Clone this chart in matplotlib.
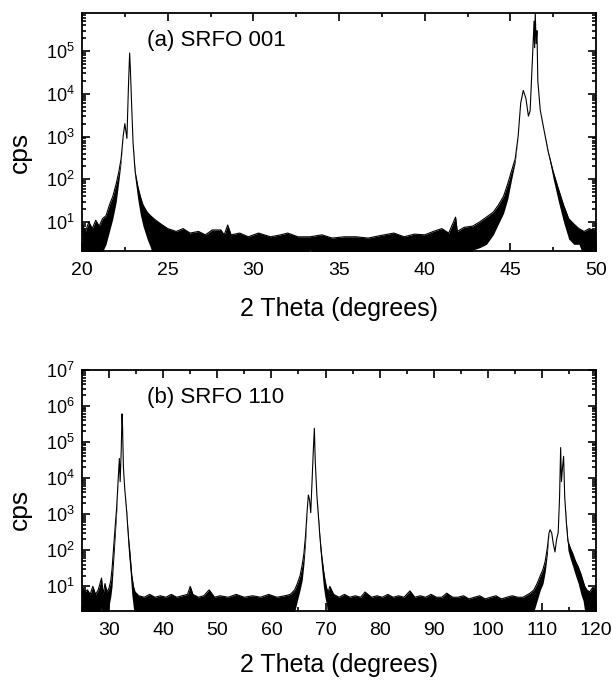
import numpy as np
import matplotlib
matplotlib.use("Agg")
import matplotlib.pyplot as plt
from matplotlib import rcParams
from matplotlib.ticker import LogLocator, MultipleLocator, NullFormatter

config = {
    "font.family": "Liberation Sans",
    "font.size": 14,
    "mathtext.fontset": "custom",
    "mathtext.rm": "Liberation Sans",
    "mathtext.it": "Liberation Sans:italic",
    "mathtext.bf": "Liberation Sans:bold",
}
rcParams.update(config)

# (a) SRFO 001 -- 2theta and the upper / lower edge of the noisy trace (cps)
theta_a = [20.0, 20.2, 20.4, 20.6, 20.8, 21.0, 21.2, 21.4, 21.6, 21.8,
           22.0, 22.15, 22.28, 22.4, 22.5, 22.62, 22.72, 22.78, 22.82, 22.9,
           22.98, 23.1, 23.25, 23.4, 23.56, 23.8, 24.0, 24.3, 24.6, 25.0,
           25.5, 25.9, 26.3, 26.8, 27.2, 27.6, 28.1, 28.3, 28.5, 28.7,
           29.2, 29.7, 30.3, 31.0, 31.6, 32.0, 32.6, 33.3, 34.0, 34.6,
           35.3, 36.0, 36.7, 37.4, 38.2, 38.8, 39.4, 40.0, 40.5, 41.0,
           41.4, 41.8, 41.9, 42.3, 42.8, 43.2, 43.6, 44.0, 44.3, 44.6,
           44.85, 45.05, 45.28, 45.45, 45.6, 45.75, 45.9, 46.05, 46.15, 46.3,
           46.38, 46.41, 46.45, 46.5, 46.55, 46.6, 46.74, 46.95, 47.2, 47.5,
           47.8, 48.1, 48.4, 48.7, 49.0, 49.3, 49.6, 50.0]
upper_a = [9, 6, 10, 7, 11, 8, 12, 14, 25, 40,
           80, 150, 300, 1000, 2000, 900, 20000, 90000, 40000, 5000,
           700, 150, 70, 40, 25, 17, 14, 11, 9, 7,
           6, 7, 5.5, 6, 5, 6.5, 6.5, 5, 8.5, 5,
           5.5, 4.5, 5.5, 4.5, 5, 5.5, 4.5, 4.5, 5, 4.2,
           4.5, 4.5, 4.2, 4.8, 5.5, 4.5, 5.2, 5, 6, 7,
           5.5, 13, 6, 7.5, 8, 10, 13, 17, 25, 40,
           80, 150, 300, 1000, 6000, 12000, 8000, 3000, 4000, 90000,
           500000, 120000, 780000, 150000, 300000, 20000, 4200, 1500, 450, 150,
           60, 25, 12, 9, 7, 6, 7, 6]
lower_a = [1, 1, 1.5, 1, 1, 2, 2, 3, 6, 12,
           30, 90, 250, 1000, 2000, 900, 20000, 90000, 40000, 5000,
           700, 100, 35, 15, 8, 4, 2.5, 1, 1, 1,
           1, 1, 1, 1, 1, 1, 1, 1, 1, 1,
           1, 1, 1, 1, 1, 1, 1, 2.3, 1, 1,
           1, 1, 1, 1, 1, 1, 1, 1, 1, 1,
           1, 1, 1, 1, 2.2, 2.5, 3, 5, 9, 16,
           35, 90, 250, 1000, 6000, 12000, 8000, 3000, 4000, 90000,
           500000, 120000, 780000, 150000, 300000, 20000, 4200, 1500, 400, 100,
           30, 10, 4, 3, 3, 1.5, 1, 1]

# (b) SRFO 110
theta_b = [25.0, 25.5, 26.0, 26.5, 27.0, 27.5, 28.0, 28.6, 28.9, 29.25,
           29.6, 30.0, 30.3, 30.55, 30.8, 31.1, 31.4, 31.7, 31.9, 32.05,
           32.25, 32.4, 32.5, 32.65, 32.9, 33.25, 33.56, 33.9, 34.2, 34.5,
           34.8, 35.5, 36.5, 37.5, 38.5, 39.5, 40.5, 41.5, 42.5, 43.5,
           44.5, 45.0, 45.5, 46.5, 47.5, 48.5, 49.5, 50.5, 52.0, 53.5,
           55.0, 56.5, 58.0, 59.5, 61.0, 62.5, 63.5, 64.3, 64.8, 65.3,
           65.7, 66.0, 66.3, 66.6, 66.83, 67.05, 67.27, 67.5, 67.75, 67.94,
           68.1, 68.4, 68.7, 69.0, 69.3, 69.6, 69.9, 70.2, 70.5, 70.8,
           71.5, 72.5, 73.5, 74.5, 75.5, 76.5, 77.3, 78.5, 79.5, 80.5,
           81.5, 82.5, 83.5, 84.5, 85.6, 86.5, 87.5, 88.5, 89.5, 90.5,
           91.5, 92.4, 93.5, 94.5, 95.5, 96.5, 97.5, 98.5, 99.5, 100.5,
           101.5, 102.5, 103.5, 104.5, 105.5, 106.5, 107.8, 108.5, 109.1, 109.7,
           110.2, 110.6, 111.0, 111.3, 111.5, 111.8, 112.1, 112.4, 112.7, 113.0,
           113.25, 113.45, 113.6, 113.8, 114.0, 114.2, 114.5, 114.8, 115.2, 115.7,
           116.2, 116.7, 117.2, 117.6, 117.9, 118.3, 118.8, 119.3, 120.0]
upper_b = [10, 7, 8, 6, 10, 6, 8, 17, 6, 12,
           7, 9, 14, 30, 100, 400, 1500, 10000, 35000, 8000,
           60000, 600000, 250000, 20000, 5000, 1200, 250, 70, 20, 10,
           7, 5.5, 5, 6, 5, 5.5, 5, 6, 5, 5.5,
           6, 10, 6, 5, 5.5, 8, 5, 5.5, 5, 6,
           5, 5.5, 5, 6, 5, 5.5, 6, 8, 12, 20,
           40, 80, 250, 1200, 3400, 2500, 1100, 8000, 60000, 240000,
           30000, 3400, 800, 200, 70, 30, 15, 9, 7, 10,
           6, 5, 6, 5, 5.5, 5, 7, 5, 5.5, 5,
           6, 5, 5.5, 5, 7.5, 5, 5.5, 5, 6, 5,
           5, 6.5, 5, 5, 5.5, 4.5, 5, 5.5, 4.5, 5,
           5.5, 4.5, 5, 5.5, 5, 5, 6.5, 8, 12, 20,
           30, 50, 120, 300, 370, 300, 150, 90, 200, 310,
           3000, 70000, 8000, 20000, 40000, 3000, 600, 180, 120, 80,
           50, 35, 22, 14, 10, 8, 7, 9, 8]
lower_b = [1, 1, 1, 1, 1, 1, 1, 2.5, 1, 1,
           1, 3, 5, 10, 40, 200, 1100, 10000, 35000, 8000,
           60000, 600000, 250000, 20000, 5000, 1000, 100, 25, 6, 2.5,
           1, 1, 1, 1, 1, 1, 1, 1, 1, 1,
           1, 1, 1, 1, 1, 1, 1, 1, 1, 1,
           1, 1, 1, 1, 1, 1, 1, 2, 4, 8,
           15, 40, 150, 1200, 3400, 2500, 1100, 8000, 60000, 240000,
           30000, 3400, 600, 100, 30, 10, 5, 3, 1, 1,
           1, 1, 1, 1, 1, 1, 1, 1, 1, 1,
           1, 1, 1, 1, 1, 1, 1, 1, 1, 1,
           1, 1, 1, 1, 1, 1, 1, 1, 1, 1,
           1, 1, 1, 1, 1, 1, 1, 2, 4, 8,
           12, 25, 80, 300, 370, 300, 150, 90, 200, 310,
           3000, 70000, 8000, 20000, 40000, 3000, 400, 100, 60, 35,
           20, 12, 6, 4, 2, 1, 1, 1, 1]


def draw_panel(ax, theta, upper, lower, xlim, ylim, xmajor, xminor, label,
               label_y, xlabelpad):
    ax.fill_between(theta, lower, upper, color="black", lw=0)
    ax.plot(theta, upper, color="black", lw=0.8)
    ax.set_yscale("log")
    ax.set_xlim(*xlim)
    ax.set_ylim(*ylim)
    ax.xaxis.set_major_locator(MultipleLocator(xmajor))
    ax.xaxis.set_minor_locator(MultipleLocator(xminor))
    ax.yaxis.set_major_locator(LogLocator(base=10, numticks=20))
    ax.yaxis.set_minor_locator(LogLocator(base=10, subs=np.arange(2, 10), numticks=20))
    ax.yaxis.set_minor_formatter(NullFormatter())
    ax.tick_params(which="both", direction="in", top=True, right=True, width=1.2)
    ax.tick_params(which="major", length=6)
    ax.tick_params(which="minor", length=3)
    ax.tick_params(axis="x", labelsize=14, pad=8)
    ax.tick_params(axis="y", labelsize=13, pad=5)
    for s in ax.spines.values():
        s.set_linewidth(1.3)
    ax.set_xlabel("2 Theta (degrees)", fontsize=18, labelpad=xlabelpad)
    ax.set_ylabel("cps", fontsize=19)
    ax.yaxis.set_label_coords(-0.098, label_y)
    ax.text(0.126, 0.885, label, transform=ax.transAxes, fontsize=16,
            va="center", ha="left")


fig = plt.figure(figsize=(6.12, 6.81), dpi=100)
ax1 = fig.add_axes([0.134, 0.631, 0.840, 0.350])
ax2 = fig.add_axes([0.134, 0.103, 0.840, 0.354])

draw_panel(ax1, theta_a, upper_a, lower_a, (20, 50), (2.06, 7.8e5), 5, 2.5,
           "(a) SRFO 001", 0.416, 13)
draw_panel(ax2, theta_b, upper_b, lower_b, (25, 120), (2.1, 1e7), 10, 5,
           "(b) SRFO 110", 0.419, 10)

plt.savefig("out.png", dpi=100)
